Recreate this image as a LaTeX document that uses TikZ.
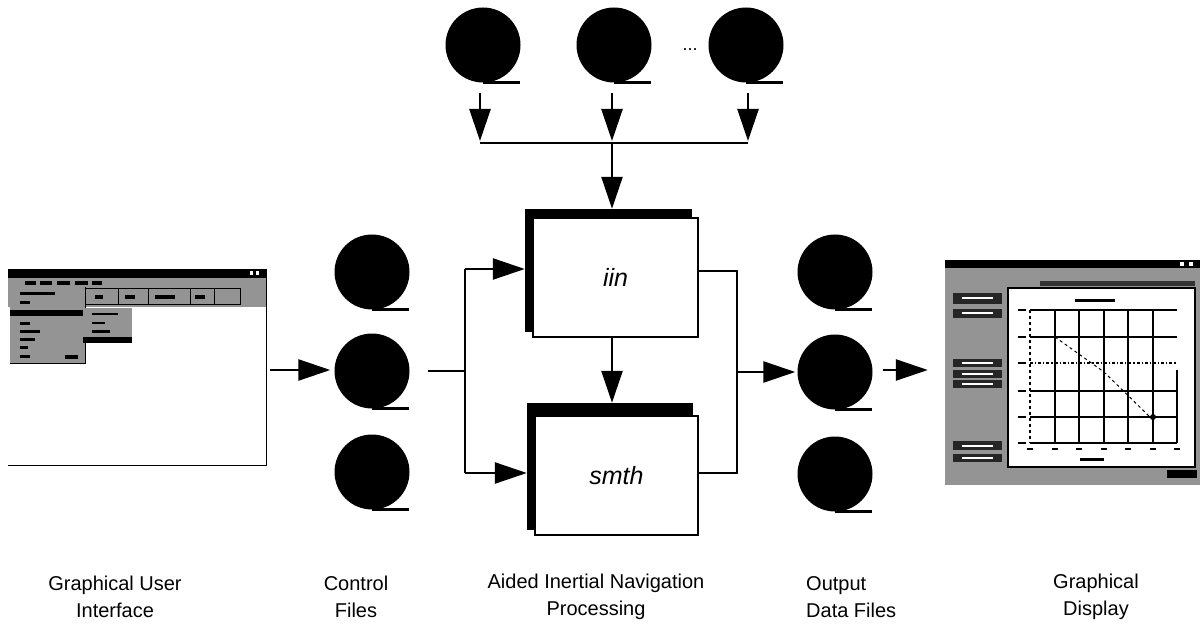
\documentclass[tikz,border=0pt]{standalone}
\usepackage{fontspec}
\setmainfont{Liberation Sans}
\usetikzlibrary{arrows.meta,calc}
\begin{document}
\begin{tikzpicture}[x=1pt,y=-1pt,
  reel/.style={circle,fill=black,minimum size=75pt,inner sep=0pt},
  conn/.style={line width=2.5pt},
  arr/.style={line width=2.5pt,-{Triangle[length=32pt,width=21pt]}},
  backbox/.style={rectangle,fill=black,inner sep=0pt},
  frontbox/.style={rectangle,draw=black,line width=2pt,fill=white,inner sep=0pt,font=\fontsize{25}{30}\selectfont\itshape},
  lbl/.style={align=center,font=\fontsize{20}{27}\selectfont,inner sep=0pt},
  scr/.style={fill=black!42},
  thin/.style={line width=1pt}]
\useasboundingbox (0,0) rectangle (1202,644);

% ---------- reels ----------
\foreach \n/\x/\y in {t1/483/45, t2/614/45, t3/746/45,
                      c1/372/272, c2/372/371, c3/372/472,
                      o1/835/272, o2/835/372, o3/835/474}{
  \node[reel] (\n) at (\x,\y) {};
  \draw[line width=2.5pt] (\n.south) -- ++(37,0);
}
\node[font=\fontsize{18}{18}\selectfont,inner sep=0pt] (dots) at (690,50) {...};

% ---------- processing boxes ----------
\node[backbox,minimum width=167pt,minimum height=123pt] (iinback) at (608.5,270.5) {};
\node[frontbox,minimum width=165pt,minimum height=119pt] (iin) at (615.5,277.5) {iin};
\node[backbox,minimum width=166pt,minimum height=127pt] (smthback) at (610,466.5) {};
\node[frontbox,minimum width=163pt,minimum height=119pt] (smth) at (616.5,475.5) {smth};

% ---------- top inputs ----------
\coordinate (a1) at (480,93);
\coordinate (a2) at (612,93);
\coordinate (a3) at (748,93);
\coordinate (b1) at (480,143);
\coordinate (b2) at (612,143);
\coordinate (b3) at (748,143);
\draw[arr] (a1) -- ($(b1)+(0,-2)$);
\draw[arr] (a2) -- ($(b2)+(0,-2)$);
\draw[arr] (a3) -- ($(b3)+(0,-2)$);
\draw[conn] (b1) -- (b3);
\draw[arr] (b2) -- (b2 |- iinback.north);

% ---------- iin -> smth ----------
\draw[arr] (iin.south -| b2) -- (b2 |- smthback.north);

% ---------- left fork ----------
\coordinate (ls) at (428,371);
\coordinate (lf) at (465,371);
\coordinate (lt) at (465,269);
\coordinate (lb) at (465,473);
\draw[conn] (ls) -- (lf);
\draw[conn] (lt) -- (lb);
\draw[arr] (lt) -- (lt -| iinback.west);
\draw[arr] (lb) -- (lb -| smthback.west);

% ---------- right fork ----------
\coordinate (rt) at (737,271);
\coordinate (rb) at (737,473);
\coordinate (rf) at (737,372);
\draw[conn] (rt -| iin.east) -- (rt) -- (rb) -- (rb -| smth.east);
\draw[arr] (rf) -- ($(o2.west)+(-2,0)$);

% ---------- GUI screenshot ----------
\node[minimum width=258pt,minimum height=196pt,inner sep=0pt] (gui) at (137,367) {};
\fill[black] (8,269) rectangle (266,278);
\fill[scr] (8,278) rectangle (266,307);
\foreach \xa/\xb in {25/36,40/52,57/70,75/88,92/102}{\fill[black] (\xa,281) rectangle (\xb,285);}
\fill[white] (250,271) rectangle (253,275);
\fill[white] (256,271) rectangle (259,275);
\draw[thin] (85,289) rectangle (240,305);
\foreach \xx in {118,148,190,214}{\draw[thin] (\xx,289) -- (\xx,305);}
\foreach \xa/\xb in {95/103,125/135,155/175,195/205}{\fill[black] (\xa,295) rectangle (\xb,299);}
\fill[scr] (10,287) rectangle (85,363);
\draw[thin] (85,287) -- (85,363) -- (10,363);
\fill[black] (10,310) rectangle (83,316);
\foreach \yy/\xb in {292/55,301/30,322/30,330/40,338/35,346/28,355/30}{\fill[black] (20,\yy) rectangle (\xb,\yy+3);}
\fill[black] (65,355) rectangle (78,359);
\fill[scr] (85,308) rectangle (132,337);
\fill[black] (83,337) rectangle (132,343);
\foreach \yy/\xb in {313/118,322/105,330/110}{\fill[black] (92,\yy) rectangle (\xb,\yy+2.5);}
\draw[thin] (266,269) -- (266,465) -- (8,465);

% ---------- Graphical display screenshot ----------
\node[minimum width=255pt,minimum height=225pt,inner sep=0pt] (gd) at (1072.5,372.5) {};
\fill[scr] (945,268) rectangle (1200,485);
\fill[black] (945,260) rectangle (1200,268);
\fill[white] (1180,262) rectangle (1184,266);
\fill[white] (1189,262) rectangle (1193,266);
\fill[black!80] (1040,281) rectangle (1195,286);
\fill[white] (1008,288) rectangle (1195,467);
\draw[line width=1.5pt] (1008,288) rectangle (1195,467);
\foreach \ya/\yb in {293/304,309/318,359/367,370/378,380/388,441/450,454/462}{
  \fill[black!85] (953,\ya) rectangle (1002,\yb);
  \fill[white] (962,{(\ya+\yb)/2-1}) rectangle (993,{(\ya+\yb)/2+1});
}
\fill[black] (1167,470) rectangle (1197,478);
% plot
\fill[black] (1075,299) rectangle (1115,302);
\fill[black] (1080,458) rectangle (1104,461);
\draw[line width=1.2pt] (1030,310) -- (1177,310);
\foreach \yy in {337,391,417,443}{\draw[line width=1.2pt] (1030,\yy) -- (1177,\yy);}
\draw[line width=1.2pt,dash dot] (1030,363) -- (1177,363);
\foreach \xx in {1055,1079,1104,1128,1153}{\draw[line width=1.2pt] (\xx,310) -- (\xx,443);}
\draw[line width=1.2pt,dashed] (1030,310) -- (1030,443);
\draw[line width=1.2pt] (1177,370) -- (1177,443);
\foreach \yy in {310,337,363,391,417,443}{\fill[black] (1018,\yy-1) rectangle (1026,\yy+1);}
\foreach \xx in {1030,1055,1079,1104,1128,1153,1177}{\fill[black] (\xx-3,448) rectangle (\xx+3,450);}
\draw[line width=1pt,dashed] (1055,337) -- (1104,372) -- (1153,420);
\fill[black] (1153,417) circle[radius=3];

% ---------- connections between stages ----------
\coordinate (gi) at (270,370);
\coordinate (go) at (883,370);
\draw[arr] (gi) -- ($(gi -| c2.west)+(-4,0)$);
\draw[arr] (go) -- ($(go -| gd.west)+(-17,0)$);

% ---------- labels ----------
\node[lbl] (l1) at (115,597) {Graphical User\\Interface};
\node[lbl] (l2) at (356,597) {Control\\Files};
\node[lbl] (l3) at (596,597) {Aided Inertial Navigation\\Processing};
\node[lbl,align=left,anchor=west] (l4) at (806,597) {Output\\Data Files};
\node[lbl] (l5) at (1096,597) {Graphical\\Display};
\end{tikzpicture}
\end{document}
